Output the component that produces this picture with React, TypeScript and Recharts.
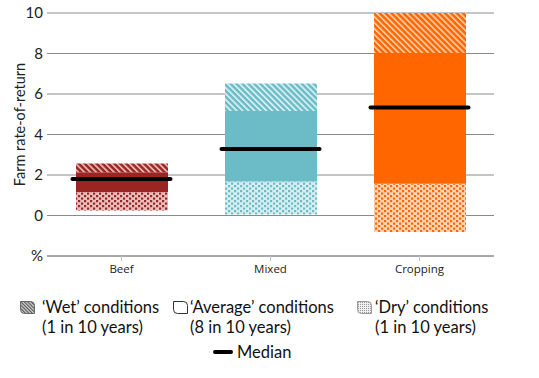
import {
  ComposedChart,
  Bar,
  Scatter,
  Cell,
  XAxis,
  YAxis,
  CartesianGrid,
} from "recharts";

const categories = ["Beef", "Mixed", "Cropping"];
// range bounds (farm rate-of-return, %)
const dryLow = [0.25, 0.05, -0.82];
const avgLow = [1.16, 1.68, 1.57];
const avgHigh = [2.14, 5.16, 8.03];
const wetHigh = [2.57, 6.52, 10.0];
const medians = [1.8, 3.28, 5.33];
const yTicks = [-2, 0, 2, 4, 6, 8, 10];

const palette = [
  { key: "beef", main: "#9b2522", light: "#e9bfbe", stripe: "#e6b3b1" },
  { key: "mixed", main: "#6bbcc6", light: "#d8eff2", stripe: "#d6eef1" },
  { key: "crop", main: "#ff6600", light: "#ffd5b6", stripe: "#ffc79c" },
];

const data = categories.map((name, i) => ({
  name,
  base: dryLow[i],
  dry: avgLow[i] - dryLow[i],
  avg: avgHigh[i] - avgLow[i],
  wet: wetHigh[i] - avgHigh[i],
  median: medians[i],
}));

const FONT = "Lato, 'Open Sans', sans-serif";

const MedianMark = (props: any) => {
  const { cx, cy } = props;
  if (cx == null || cy == null) return null;
  return <rect x={cx - 51} y={cy - 2} width={102} height={4} rx={2} fill="#000" />;
};

const legendText: React.CSSProperties = {
  position: "absolute",
  fontFamily: FONT,
  fontSize: 16.5,
  lineHeight: "20px",
  color: "#111",
  whiteSpace: "nowrap",
};

export default function App() {
  return (
    <div style={{ position: "relative", width: 539, height: 378, background: "#fff" }}>
      <style>{`body{margin:0}`}</style>
      <ComposedChart
        width={539}
        height={378}
        data={data}
        margin={{ top: 13, right: 45, bottom: 92, left: 0 }}
      >
        <defs>
          {palette.map((p) => (
            <pattern
              key={"w" + p.key}
              id={"wet-" + p.key}
              patternUnits="userSpaceOnUse"
              width={4.2}
              height={4.2}
              patternTransform="rotate(-45)"
            >
              <rect x={0} y={0} width={4.2} height={4.2} fill={p.main} />
              <rect x={0} y={0} width={1.8} height={4.2} fill={p.stripe} />
            </pattern>
          ))}
          {palette.map((p) => (
            <pattern
              key={"d" + p.key}
              id={"dry-" + p.key}
              patternUnits="userSpaceOnUse"
              width={6}
              height={5}
            >
              <rect x={0} y={0} width={6} height={5} fill={p.light} />
              <rect x={0} y={0} width={2.2} height={2.2} fill={p.main} />
              <rect x={3} y={2.5} width={2.2} height={2.2} fill={p.main} />
            </pattern>
          ))}
        </defs>
        <CartesianGrid vertical={false} stroke="#8a8a8a" strokeWidth={1} />
        <XAxis
          dataKey="name"
          height={30}
          axisLine={{ stroke: "#8a8a8a" }}
          tickLine={{ stroke: "#c4c4c4" }}
          tickSize={5}
          tickMargin={4}
          tick={{ fontSize: 11.5, fill: "#222", fontFamily: "'Open Sans', sans-serif" }}
        />
        <YAxis
          width={47}
          domain={[-2, 10]}
          ticks={yTicks}
          interval={0}
          axisLine={false}
          tickLine={false}
          tickSize={2}
          tickMargin={2}
          tickFormatter={(v: number) => (v === -2 ? "%" : String(v))}
          tick={{ fontSize: 15, fill: "#222", fontFamily: FONT }}
          label={{
            content: ({ viewBox }: any) => (
              <text
                x={viewBox.x + 19}
                y={viewBox.y + viewBox.height / 2 - 10}
                transform={`rotate(-90 ${viewBox.x + 19} ${viewBox.y + viewBox.height / 2 - 10})`}
                textAnchor="middle"
                dominantBaseline="central"
                fontSize={14.5}
                fill="#222"
                fontFamily={FONT}
              >
                Farm rate-of-return
              </text>
            ),
          }}
        />
        <Bar dataKey="base" stackId="r" fill="transparent" barSize={92} isAnimationActive={false} />
        <Bar dataKey="dry" stackId="r" barSize={92} isAnimationActive={false}>
          {palette.map((p) => (
            <Cell key={p.key} fill={`url(#dry-${p.key})`} />
          ))}
        </Bar>
        <Bar dataKey="avg" stackId="r" barSize={92} isAnimationActive={false}>
          {palette.map((p) => (
            <Cell key={p.key} fill={p.main} />
          ))}
        </Bar>
        <Bar dataKey="wet" stackId="r" barSize={92} isAnimationActive={false}>
          {palette.map((p) => (
            <Cell key={p.key} fill={`url(#wet-${p.key})`} />
          ))}
        </Bar>
        <Scatter dataKey="median" shape={MedianMark} isAnimationActive={false} />
      </ComposedChart>

      {/* legend */}
      <svg style={{ position: "absolute", left: 0, top: 0 }} width={539} height={378} pointerEvents="none">
        <defs>
          <pattern id="lg-hatch" patternUnits="userSpaceOnUse" width={2.4} height={2.4} patternTransform="rotate(-45)">
            <rect width={2.4} height={2.4} fill="#d0d0d0" />
            <rect width={1.1} height={2.4} fill="#555" />
          </pattern>
          <pattern id="lg-dots" patternUnits="userSpaceOnUse" width={2} height={2}>
            <rect width={2} height={2} fill="#efefef" />
            <rect width={1} height={1} fill="#9a9a9a" />
          </pattern>
        </defs>
        <path d="M20.5 301.5 h10 a4 4 0 0 1 4 4 v8 h-10 a4 4 0 0 1 -4 -4 z" fill="url(#lg-hatch)" stroke="#666" strokeWidth={1} />
        <path d="M173.5 301.5 h10 a4 4 0 0 1 4 4 v8 h-10 a4 4 0 0 1 -4 -4 z" fill="#fff" stroke="#333" strokeWidth={1} />
        <path d="M357.5 301.5 h10 a4 4 0 0 1 4 4 v8 h-10 a4 4 0 0 1 -4 -4 z" fill="url(#lg-dots)" stroke="#999" strokeWidth={1} />
        <rect x={213} y={350} width={20} height={4} rx={2} fill="#000" />
      </svg>
      <div style={{ ...legendText, left: 42, top: 297 }}>
        ‘Wet’ conditions
        <br />
        (1 in 10 years)
      </div>
      <div style={{ ...legendText, left: 190, top: 297 }}>
        ‘Average’ conditions
        <br />
        (8 in 10 years)
      </div>
      <div style={{ ...legendText, left: 375, top: 297 }}>
        ‘Dry’ conditions
        <br />
        (1 in 10 years)
      </div>
      <div style={{ ...legendText, left: 237, top: 342 }}>Median</div>
    </div>
  );
}
